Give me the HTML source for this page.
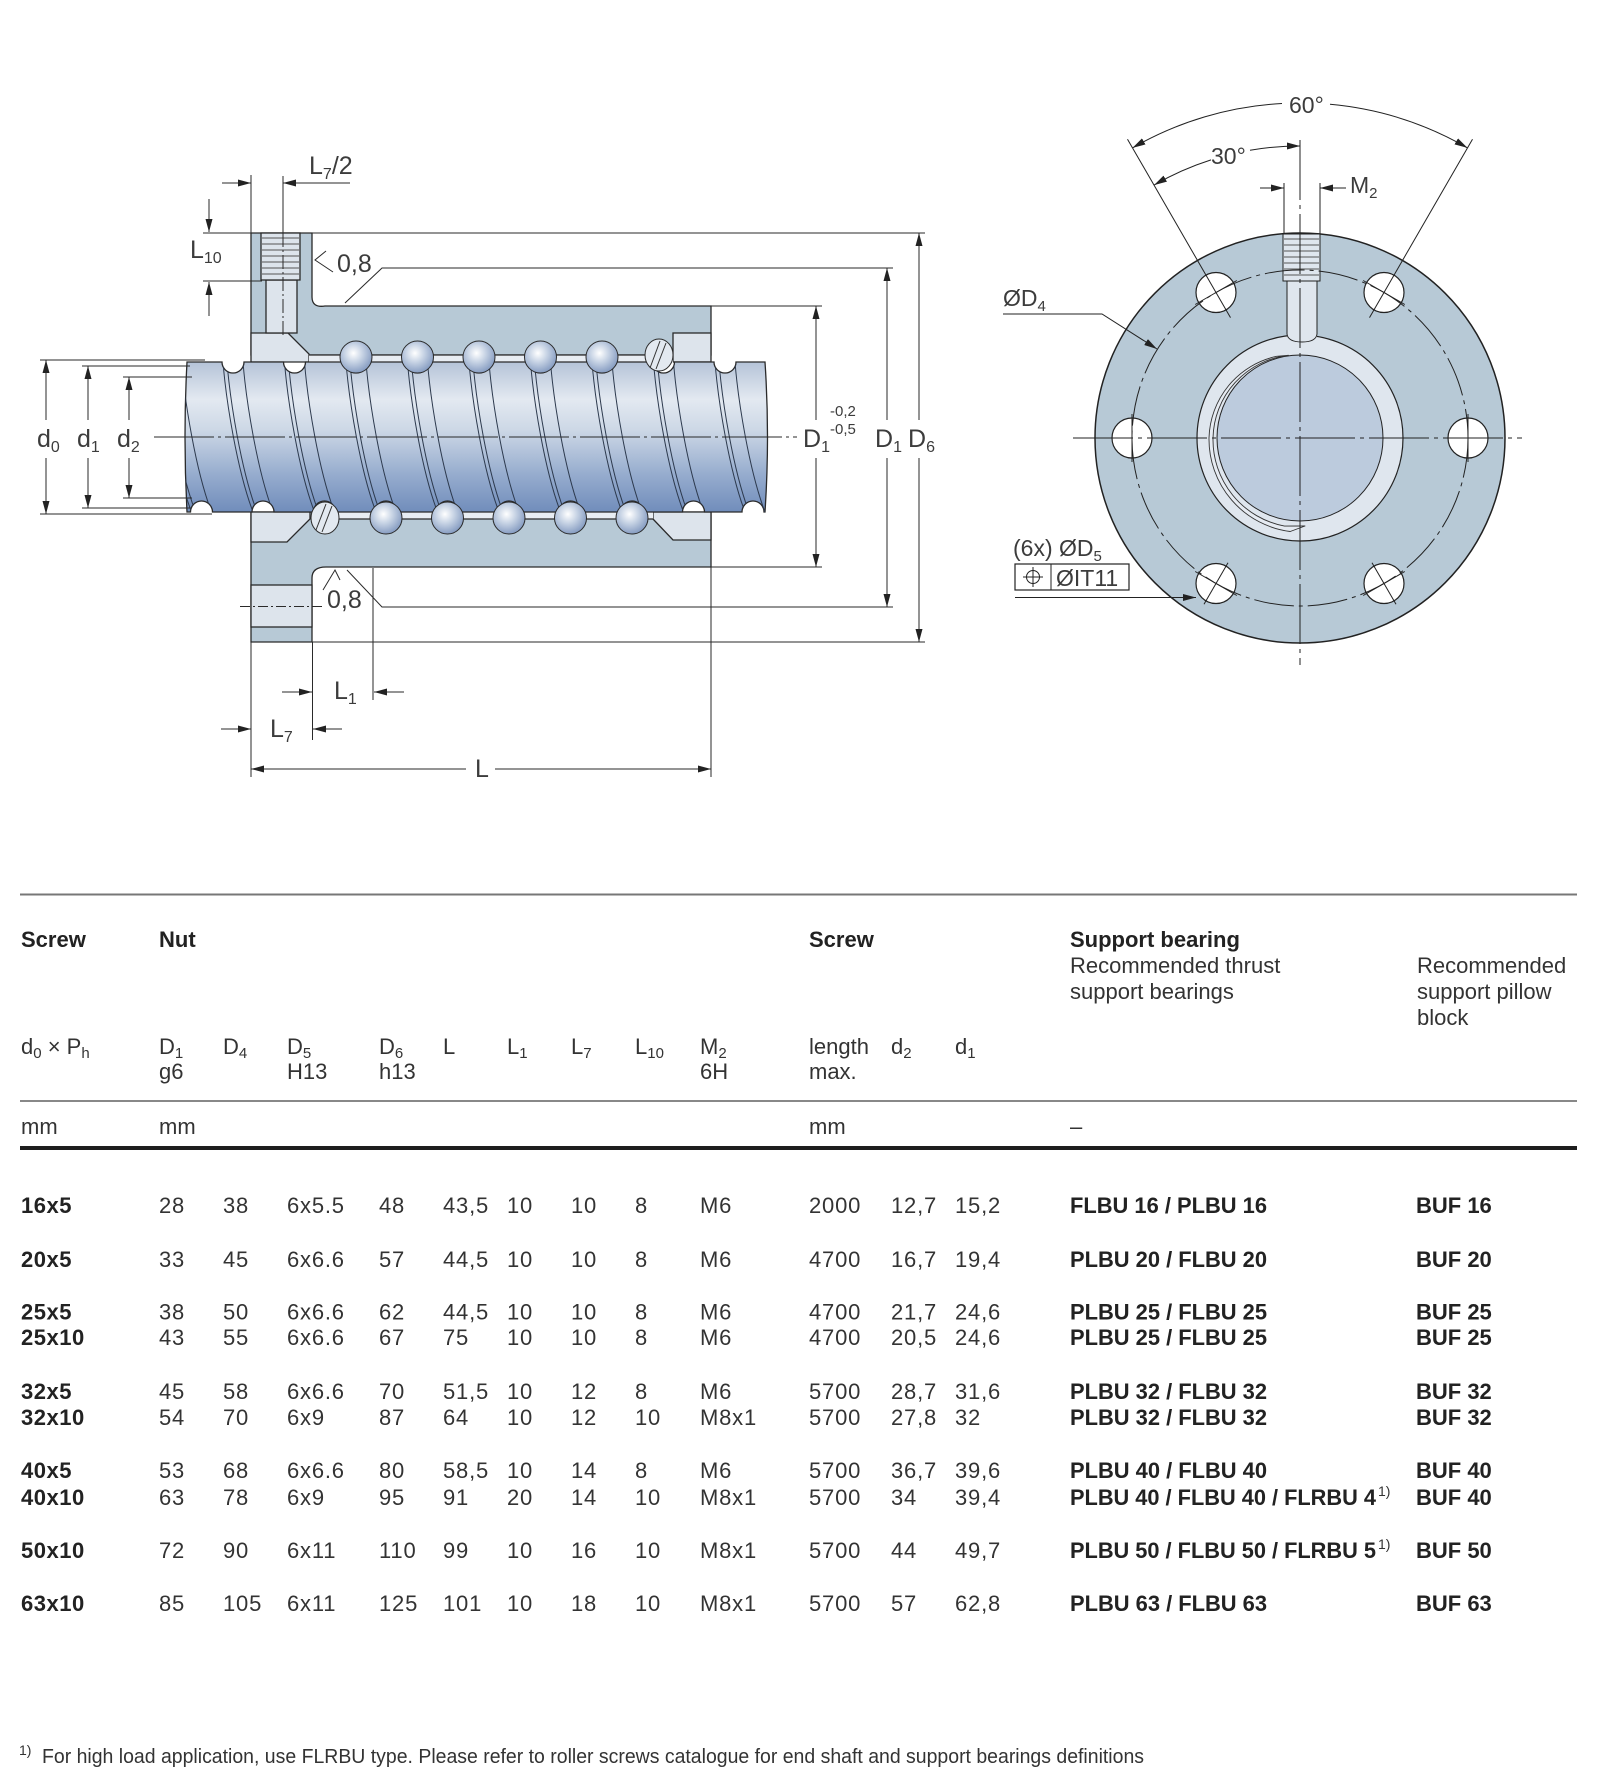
<!DOCTYPE html>
<html><head><meta charset="utf-8"><style>
html,body{margin:0;padding:0;background:#fff;}
svg{display:block;}
text{font-family:"Liberation Sans",Arial,sans-serif;}
</style></head><body>
<svg width="1602" height="1786" viewBox="0 0 1602 1786" xmlns="http://www.w3.org/2000/svg">
<defs>
<marker id="ar" viewBox="0 0 13 7" refX="13" refY="3.5" markerWidth="13" markerHeight="7" orient="auto" markerUnits="userSpaceOnUse"><path d="M0,0L13,3.5L0,7Z" fill="#222"/></marker>
<marker id="as" viewBox="0 0 13 7" refX="13" refY="3.5" markerWidth="13" markerHeight="7" orient="auto-start-reverse" markerUnits="userSpaceOnUse"><path d="M0,0L13,3.5L0,7Z" fill="#222"/></marker>
<linearGradient id="sg" x1="0" y1="362" x2="0" y2="512" gradientUnits="userSpaceOnUse">
<stop offset="0" stop-color="#b5c3d8"/><stop offset="0.25" stop-color="#e3e9f1"/><stop offset="0.45" stop-color="#cdd8e6"/><stop offset="0.75" stop-color="#96acce"/><stop offset="1" stop-color="#718dbb"/>
</linearGradient>
<radialGradient id="bg" cx="0.42" cy="0.38" r="0.62">
<stop offset="0" stop-color="#ffffff"/><stop offset="0.45" stop-color="#c8d4e5"/><stop offset="1" stop-color="#879dc2"/>
</radialGradient>
<path id="scr" d="M187,362 L222,362 A11,11 0 0 0 244,362 L283.5,362 A11,11 0 0 0 305.5,362 L345,362 A11,11 0 0 0 367,362 L406.5,362 A11,11 0 0 0 428.5,362 L468,362 A11,11 0 0 0 490,362 L529.5,362 A11,11 0 0 0 551.5,362 L591,362 A11,11 0 0 0 613,362 L652.5,362 A11,11 0 0 0 674.5,362 L714,362 A11,11 0 0 0 736,362 L765,362 Q770,437 765,512 L764,512 A11,11 0 0 0 742,512 L704.5,512 A11,11 0 0 0 682.5,512 L643,512 A11,11 0 0 0 621,512 L581.5,512 A11,11 0 0 0 559.5,512 L520,512 A11,11 0 0 0 498,512 L458.5,512 A11,11 0 0 0 436.5,512 L397,512 A11,11 0 0 0 375,512 L335.5,512 A11,11 0 0 0 313.5,512 L274,512 A11,11 0 0 0 252,512 L212.5,512 A11,11 0 0 0 190.5,512 L187,512 Q183,437 187,362 Z"/>
<clipPath id="sc"><use href="#scr"/></clipPath>
<g id="gr" fill="none" stroke="#2d3a4e" stroke-width="1">
<path d="M-10,362 C-7,400 4,470 20,512"/>
<path d="M-6,362 C-3,400 8,470 24,512"/>
<path d="M10,362 C13,400 24,470 40,512"/>
</g>
</defs>

<!-- ================= LEFT DRAWING ================= -->
<g stroke="#2a2a2a" stroke-width="1.3">
<path d="M251,233 H312 V297 Q312,308 325,306 H711 V355 H251 Z" fill="#b7c9d6"/>
<path d="M251,512 H711 V567 H326 Q312,567 312,578 V642 H251 Z" fill="#b7c9d6"/>
<path d="M251,333 H288 L309,354 V362 H251 Z" fill="#dde4ec"/>
<rect x="266" y="280" width="31" height="53" fill="#dde4ec"/>
<rect x="261" y="233" width="39" height="47" fill="#dde4ec"/>
<rect x="673" y="333" width="38" height="29" fill="#dde4ec"/>
<path d="M251,512 H310 V519 L287,542 H251 Z" fill="#dde4ec"/>
<path d="M653,519 L673,540 H711 V512 H653 Z" fill="#dde4ec"/>
<rect x="251" y="585" width="61" height="42" fill="#dde4ec"/>
</g>
<rect x="309" y="355" width="364" height="8" fill="#e8edf3"/>
<rect x="312" y="511" width="341" height="8" fill="#e8edf3"/>
<line x1="309" y1="355" x2="673" y2="355" stroke="#2a2a2a" stroke-width="1.2"/>
<line x1="312" y1="519" x2="653" y2="519" stroke="#2a2a2a" stroke-width="1.2"/>
<g stroke="#555" stroke-width="1">
<line x1="262" y1="238" x2="299" y2="238"/><line x1="262" y1="244" x2="299" y2="244"/><line x1="262" y1="250" x2="299" y2="250"/><line x1="262" y1="256" x2="299" y2="256"/><line x1="262" y1="262" x2="299" y2="262"/><line x1="262" y1="268" x2="299" y2="268"/><line x1="262" y1="274" x2="299" y2="274"/>
</g>

<!-- screw -->
<use href="#scr" fill="url(#sg)" stroke="#2a2a2a" stroke-width="1.3"/>
<g clip-path="url(#sc)">
<use href="#gr" x="171.5"/><use href="#gr" x="233"/><use href="#gr" x="294.5"/><use href="#gr" x="356"/><use href="#gr" x="417.5"/><use href="#gr" x="479"/><use href="#gr" x="540.5"/><use href="#gr" x="602"/><use href="#gr" x="663.5"/><use href="#gr" x="725"/>
</g>

<!-- deflectors -->
<g stroke="#2a2a2a" stroke-width="1" fill="#e3e9f0">
<ellipse cx="659" cy="355" rx="14" ry="16"/>
<ellipse cx="325" cy="518" rx="14" ry="16"/>
</g>
<g stroke="#333" stroke-width="1">
<line x1="650" y1="368" x2="660" y2="341"/><line x1="656" y1="369" x2="666" y2="343"/>
<line x1="316" y1="530" x2="326" y2="504"/><line x1="322" y1="532" x2="332" y2="506"/>
</g>
<!-- balls -->
<g fill="url(#bg)" stroke="#2a2a2a" stroke-width="1">
<circle cx="356" cy="357" r="16"/><circle cx="417.5" cy="357" r="16"/><circle cx="479" cy="357" r="16"/><circle cx="540.5" cy="357" r="16"/><circle cx="602" cy="357" r="16"/>
<circle cx="386" cy="518" r="16"/><circle cx="447.5" cy="518" r="16"/><circle cx="509" cy="518" r="16"/><circle cx="570.5" cy="518" r="16"/><circle cx="632" cy="518" r="16"/>
</g>

<!-- dimension / extension lines -->
<g stroke="#2a2a2a" stroke-width="1" fill="none">
<line x1="312" y1="233" x2="925" y2="233"/>
<line x1="312" y1="642" x2="925" y2="642"/>
<line x1="711" y1="306" x2="822" y2="306"/>
<line x1="711" y1="567" x2="822" y2="567"/>
<polyline points="345,303 382,268 893,268"/>
<polyline points="347,570 382,607 893,607"/>
<polyline points="326,251 315,260 333,272"/>
<polyline points="323,590 335,570 340,580"/>
<line x1="251" y1="175" x2="251" y2="233"/>
<line x1="251" y1="642" x2="251" y2="777"/>
<line x1="283" y1="176" x2="283" y2="233"/>
<line x1="283" y1="233" x2="283" y2="336" stroke-dasharray="14 3 2 3"/>
<line x1="312.5" y1="642" x2="312.5" y2="740"/>
<line x1="373" y1="568" x2="373" y2="700"/>
<line x1="711" y1="567" x2="711" y2="777"/>
<line x1="203" y1="233" x2="251" y2="233"/>
<line x1="203" y1="281" x2="262" y2="281"/>
<line x1="40" y1="360" x2="205" y2="360"/>
<line x1="40" y1="514" x2="212" y2="514"/>
<line x1="82" y1="366" x2="190" y2="366"/>
<line x1="82" y1="508" x2="190" y2="508"/>
<line x1="123" y1="377" x2="192" y2="377"/>
<line x1="123" y1="498" x2="192" y2="498"/>
<line x1="240" y1="606.5" x2="322" y2="606.5" stroke-dasharray="10 3 2 3"/>
<line x1="154" y1="437" x2="797" y2="437" stroke-dasharray="60 4 3 4"/>
</g>
<g stroke="#2a2a2a" stroke-width="1" marker-end="url(#ar)">
<line x1="222" y1="183" x2="251" y2="183"/>
<line x1="350" y1="183" x2="283" y2="183"/>
<line x1="209" y1="199" x2="209" y2="232"/>
<line x1="209" y1="316" x2="209" y2="282"/>
<line x1="816" y1="420" x2="816" y2="306"/>
<line x1="816" y1="458" x2="816" y2="567"/>
<line x1="887" y1="420" x2="887" y2="268"/>
<line x1="887" y1="458" x2="887" y2="607"/>
<line x1="919" y1="420" x2="919" y2="233"/>
<line x1="919" y1="458" x2="919" y2="642"/>
<line x1="46" y1="420" x2="46" y2="360"/>
<line x1="46" y1="458" x2="46" y2="514"/>
<line x1="88" y1="420" x2="88" y2="366"/>
<line x1="88" y1="458" x2="88" y2="508"/>
<line x1="129" y1="420" x2="129" y2="377"/>
<line x1="129" y1="458" x2="129" y2="498"/>
<line x1="282" y1="692" x2="312" y2="692"/>
<line x1="404" y1="692" x2="374" y2="692"/>
<line x1="221" y1="729" x2="251" y2="729"/>
<line x1="342" y1="729" x2="313" y2="729"/>
<line x1="466" y1="769" x2="251" y2="769"/>
<line x1="495" y1="769" x2="711" y2="769"/>
</g>

<!-- left drawing labels -->
<g fill="#3c3c3c" font-size="25">
<text x="309" y="174">L<tspan font-size="16" dy="5">7</tspan><tspan dy="-5">/2</tspan></text>
<text x="190" y="258">L<tspan font-size="16" dy="5">10</tspan></text>
<text x="337" y="272">0,8</text>
<text x="327" y="608">0,8</text>
<text x="37" y="447">d<tspan font-size="16" dy="5">0</tspan></text>
<text x="77" y="447">d<tspan font-size="16" dy="5">1</tspan></text>
<text x="117" y="447">d<tspan font-size="16" dy="5">2</tspan></text>
<text x="803" y="447">D<tspan font-size="16" dy="5">1</tspan></text>
<text x="830" y="416" font-size="15">-0,2</text>
<text x="830" y="434" font-size="15">-0,5</text>
<text x="875" y="447">D<tspan font-size="16" dy="5">1</tspan></text>
<text x="908" y="447">D<tspan font-size="16" dy="5">6</tspan></text>
<text x="334" y="699">L<tspan font-size="16" dy="5">1</tspan></text>
<text x="270" y="737">L<tspan font-size="16" dy="5">7</tspan></text>
<text x="475" y="777">L</text>
</g>

<!-- ================= RIGHT DRAWING ================= -->
<circle cx="1300" cy="438" r="205" fill="#b7c9d6" stroke="#222" stroke-width="1.5"/>
<circle cx="1300" cy="438" r="103" fill="#dfe6ee" stroke="#222" stroke-width="1.2"/>
<circle cx="1300" cy="438" r="83" fill="#bccbdd" stroke="#222" stroke-width="1"/>
<path d="M1276.6,356.3 A86,86 0 0 0 1209,438 A93,93 0 0 0 1290.2,531.5 L1305,526 L1284.5,526.1 A88,88 0 0 1 1213,438 A85,85 0 0 1 1288.4,355.3 Z" fill="#e6ebf2" stroke="#333" stroke-width="0.9" stroke-linejoin="round"/>
<!-- tapped hole -->
<rect x="1287" y="280" width="30" height="57" fill="#dfe6ee"/>
<rect x="1283" y="234" width="37" height="47" fill="#dfe6ee" stroke="#222" stroke-width="1"/>
<g stroke="#222" stroke-width="1" fill="none">
<line x1="1287" y1="281" x2="1287" y2="334"/>
<line x1="1317" y1="281" x2="1317" y2="334"/>
<path d="M1287,334 Q1288,342 1302,342 Q1316,342 1317,334"/>
</g>
<g stroke="#555" stroke-width="1">
<line x1="1284" y1="239" x2="1319" y2="239"/><line x1="1284" y1="245" x2="1319" y2="245"/><line x1="1284" y1="251" x2="1319" y2="251"/><line x1="1284" y1="257" x2="1319" y2="257"/><line x1="1284" y1="263" x2="1319" y2="263"/><line x1="1284" y1="269" x2="1319" y2="269"/><line x1="1284" y1="275" x2="1319" y2="275"/>
</g>
<!-- bolt holes -->
<g fill="#fff" stroke="#222" stroke-width="1.2">
<circle cx="1384" cy="292.5" r="20"/><circle cx="1216" cy="292.5" r="20"/>
<circle cx="1468" cy="438" r="20"/><circle cx="1132" cy="438" r="20"/>
<circle cx="1384" cy="583.5" r="20"/><circle cx="1216" cy="583.5" r="20"/>
</g>
<circle cx="1300" cy="438" r="168" fill="none" stroke="#222" stroke-width="1" stroke-dasharray="40 5 4 5"/>
<g stroke="#222" stroke-width="1">
<line x1="1363.2" y1="280.5" x2="1404.8" y2="304.5"/>
<line x1="1195.2" y1="304.5" x2="1236.8" y2="280.5"/>
<line x1="1468" y1="414" x2="1468" y2="462"/>
<line x1="1132" y1="414" x2="1132" y2="462"/>
<line x1="1372" y1="562.7" x2="1396" y2="604.3"/><line x1="1404.8" y1="571.5" x2="1363.2" y2="595.5"/>
<line x1="1228" y1="562.7" x2="1204" y2="604.3"/><line x1="1195.2" y1="571.5" x2="1236.8" y2="595.5"/>
<line x1="1230.5" y1="317.6" x2="1127.5" y2="139.2"/>
<line x1="1369.5" y1="317.6" x2="1472.5" y2="139.2"/>
<line x1="1300" y1="140" x2="1300" y2="665" stroke-dasharray="60 5 4 5"/>
<line x1="1073" y1="438" x2="1522" y2="438" stroke-dasharray="60 5 4 5"/>
<line x1="1284" y1="183" x2="1284" y2="234"/>
<line x1="1320" y1="183" x2="1320" y2="234"/>
</g>
<g stroke="#222" stroke-width="1" fill="none">
<path d="M1282,103.5 A335,335 0 0 0 1132.5,147.9" marker-end="url(#ar)"/>
<path d="M1330,104.3 A335,335 0 0 1 1467.5,147.9" marker-end="url(#ar)"/>
<path d="M1211,159.9 A292,292 0 0 0 1154,185.1" marker-end="url(#ar)"/>
<path d="M1250,150.3 A292,292 0 0 1 1300,146" marker-end="url(#ar)"/>
<line x1="1260" y1="188" x2="1284" y2="188" marker-end="url(#ar)"/>
<line x1="1346" y1="188" x2="1320" y2="188" marker-end="url(#ar)"/>
<polyline points="1003,314 1102,314 1157,349" marker-end="url(#ar)"/>
<line x1="1015" y1="597.5" x2="1196" y2="597.5" marker-end="url(#ar)"/>
<rect x="1015" y="564" width="114" height="26" stroke-width="1.2"/>
<line x1="1051" y1="564" x2="1051" y2="590"/>
<circle cx="1033" cy="577" r="6.5"/>
<line x1="1023" y1="577" x2="1043" y2="577"/>
<line x1="1033" y1="567" x2="1033" y2="587"/>
</g>
<g fill="#3c3c3c" font-size="23">
<text x="1289" y="113">60°</text>
<text x="1211" y="164">30°</text>
<text x="1350" y="193">M<tspan font-size="15" dy="5">2</tspan></text>
<text x="1003" y="306">ØD<tspan font-size="15" dy="5">4</tspan></text>
<text x="1013" y="556">(6x) ØD<tspan font-size="15" dy="5">5</tspan></text>
<text x="1056" y="586">ØIT11</text>
</g>

<!-- ================= TABLE ================= -->
<line x1="20" y1="894.5" x2="1577" y2="894.5" stroke="#777" stroke-width="2"/>
<line x1="20" y1="1101" x2="1577" y2="1101" stroke="#888" stroke-width="2"/>
<line x1="20" y1="1148" x2="1577" y2="1148" stroke="#1e1e1e" stroke-width="4"/>

<g fill="#222" font-size="22" font-weight="bold">
<text x="21" y="947">Screw</text>
<text x="159" y="947">Nut</text>
<text x="809" y="947">Screw</text>
<text x="1070" y="947">Support bearing</text>
</g>
<g fill="#333" font-size="22">
<text x="1070" y="973">Recommended thrust</text>
<text x="1070" y="999">support bearings</text>
<text x="1417" y="973">Recommended</text>
<text x="1417" y="999">support pillow</text>
<text x="1417" y="1025">block</text>
<text x="21" y="1054">d<tspan font-size="15" dy="4">0</tspan><tspan dy="-4"> × P</tspan><tspan font-size="15" dy="4">h</tspan></text>
<text x="159" y="1054">D<tspan font-size="15" dy="4">1</tspan></text>
<text x="159" y="1079">g6</text>
<text x="223" y="1054">D<tspan font-size="15" dy="4">4</tspan></text>
<text x="287" y="1054">D<tspan font-size="15" dy="4">5</tspan></text>
<text x="287" y="1079">H13</text>
<text x="379" y="1054">D<tspan font-size="15" dy="4">6</tspan></text>
<text x="379" y="1079">h13</text>
<text x="443" y="1054">L</text>
<text x="507" y="1054">L<tspan font-size="15" dy="4">1</tspan></text>
<text x="571" y="1054">L<tspan font-size="15" dy="4">7</tspan></text>
<text x="635" y="1054">L<tspan font-size="15" dy="4">10</tspan></text>
<text x="700" y="1054">M<tspan font-size="15" dy="4">2</tspan></text>
<text x="700" y="1079">6H</text>
<text x="809" y="1054">length</text>
<text x="809" y="1079">max.</text>
<text x="891" y="1054">d<tspan font-size="15" dy="4">2</tspan></text>
<text x="955" y="1054">d<tspan font-size="15" dy="4">1</tspan></text>
<text x="21" y="1134">mm</text>
<text x="159" y="1134">mm</text>
<text x="809" y="1134">mm</text>
<text x="1070" y="1134">–</text>
</g>

<g fill="#333" font-size="22" letter-spacing="0.8">
<text y="1213"><tspan x="159">28</tspan><tspan x="223">38</tspan><tspan x="287">6x5.5</tspan><tspan x="379">48</tspan><tspan x="443">43,5</tspan><tspan x="507">10</tspan><tspan x="571">10</tspan><tspan x="635">8</tspan><tspan x="700">M6</tspan><tspan x="809">2000</tspan><tspan x="891">12,7</tspan><tspan x="955">15,2</tspan></text>
<text y="1267"><tspan x="159">33</tspan><tspan x="223">45</tspan><tspan x="287">6x6.6</tspan><tspan x="379">57</tspan><tspan x="443">44,5</tspan><tspan x="507">10</tspan><tspan x="571">10</tspan><tspan x="635">8</tspan><tspan x="700">M6</tspan><tspan x="809">4700</tspan><tspan x="891">16,7</tspan><tspan x="955">19,4</tspan></text>
<text y="1319.5"><tspan x="159">38</tspan><tspan x="223">50</tspan><tspan x="287">6x6.6</tspan><tspan x="379">62</tspan><tspan x="443">44,5</tspan><tspan x="507">10</tspan><tspan x="571">10</tspan><tspan x="635">8</tspan><tspan x="700">M6</tspan><tspan x="809">4700</tspan><tspan x="891">21,7</tspan><tspan x="955">24,6</tspan></text>
<text y="1345"><tspan x="159">43</tspan><tspan x="223">55</tspan><tspan x="287">6x6.6</tspan><tspan x="379">67</tspan><tspan x="443">75</tspan><tspan x="507">10</tspan><tspan x="571">10</tspan><tspan x="635">8</tspan><tspan x="700">M6</tspan><tspan x="809">4700</tspan><tspan x="891">20,5</tspan><tspan x="955">24,6</tspan></text>
<text y="1399"><tspan x="159">45</tspan><tspan x="223">58</tspan><tspan x="287">6x6.6</tspan><tspan x="379">70</tspan><tspan x="443">51,5</tspan><tspan x="507">10</tspan><tspan x="571">12</tspan><tspan x="635">8</tspan><tspan x="700">M6</tspan><tspan x="809">5700</tspan><tspan x="891">28,7</tspan><tspan x="955">31,6</tspan></text>
<text y="1425"><tspan x="159">54</tspan><tspan x="223">70</tspan><tspan x="287">6x9</tspan><tspan x="379">87</tspan><tspan x="443">64</tspan><tspan x="507">10</tspan><tspan x="571">12</tspan><tspan x="635">10</tspan><tspan x="700">M8x1</tspan><tspan x="809">5700</tspan><tspan x="891">27,8</tspan><tspan x="955">32</tspan></text>
<text y="1478"><tspan x="159">53</tspan><tspan x="223">68</tspan><tspan x="287">6x6.6</tspan><tspan x="379">80</tspan><tspan x="443">58,5</tspan><tspan x="507">10</tspan><tspan x="571">14</tspan><tspan x="635">8</tspan><tspan x="700">M6</tspan><tspan x="809">5700</tspan><tspan x="891">36,7</tspan><tspan x="955">39,6</tspan></text>
<text y="1505"><tspan x="159">63</tspan><tspan x="223">78</tspan><tspan x="287">6x9</tspan><tspan x="379">95</tspan><tspan x="443">91</tspan><tspan x="507">20</tspan><tspan x="571">14</tspan><tspan x="635">10</tspan><tspan x="700">M8x1</tspan><tspan x="809">5700</tspan><tspan x="891">34</tspan><tspan x="955">39,4</tspan></text>
<text y="1558"><tspan x="159">72</tspan><tspan x="223">90</tspan><tspan x="287">6x11</tspan><tspan x="379">110</tspan><tspan x="443">99</tspan><tspan x="507">10</tspan><tspan x="571">16</tspan><tspan x="635">10</tspan><tspan x="700">M8x1</tspan><tspan x="809">5700</tspan><tspan x="891">44</tspan><tspan x="955">49,7</tspan></text>
<text y="1611"><tspan x="159">85</tspan><tspan x="223">105</tspan><tspan x="287">6x11</tspan><tspan x="379">125</tspan><tspan x="443">101</tspan><tspan x="507">10</tspan><tspan x="571">18</tspan><tspan x="635">10</tspan><tspan x="700">M8x1</tspan><tspan x="809">5700</tspan><tspan x="891">57</tspan><tspan x="955">62,8</tspan></text>
</g>
<g fill="#222" font-size="22" font-weight="bold">
<text x="21" y="1213" letter-spacing="0.5">16x5</text>
<text x="21" y="1267" letter-spacing="0.5">20x5</text>
<text x="21" y="1319.5" letter-spacing="0.5">25x5</text>
<text x="21" y="1345" letter-spacing="0.5">25x10</text>
<text x="21" y="1399" letter-spacing="0.5">32x5</text>
<text x="21" y="1425" letter-spacing="0.5">32x10</text>
<text x="21" y="1478" letter-spacing="0.5">40x5</text>
<text x="21" y="1505" letter-spacing="0.5">40x10</text>
<text x="21" y="1558" letter-spacing="0.5">50x10</text>
<text x="21" y="1611" letter-spacing="0.5">63x10</text>
<text x="1070" y="1213" textLength="197" lengthAdjust="spacingAndGlyphs">FLBU 16 / PLBU 16</text>
<text x="1070" y="1267" textLength="197" lengthAdjust="spacingAndGlyphs">PLBU 20 / FLBU 20</text>
<text x="1070" y="1319.5" textLength="197" lengthAdjust="spacingAndGlyphs">PLBU 25 / FLBU 25</text>
<text x="1070" y="1345" textLength="197" lengthAdjust="spacingAndGlyphs">PLBU 25 / FLBU 25</text>
<text x="1070" y="1399" textLength="197" lengthAdjust="spacingAndGlyphs">PLBU 32 / FLBU 32</text>
<text x="1070" y="1425" textLength="197" lengthAdjust="spacingAndGlyphs">PLBU 32 / FLBU 32</text>
<text x="1070" y="1478" textLength="197" lengthAdjust="spacingAndGlyphs">PLBU 40 / FLBU 40</text>
<text x="1070" y="1505" textLength="306" lengthAdjust="spacingAndGlyphs">PLBU 40 / FLBU 40 / FLRBU 4</text>
<text x="1070" y="1558" textLength="306" lengthAdjust="spacingAndGlyphs">PLBU 50 / FLBU 50 / FLRBU 5</text>
<text x="1070" y="1611" textLength="197" lengthAdjust="spacingAndGlyphs">PLBU 63 / FLBU 63</text>
<text x="1416" y="1213">BUF 16</text>
<text x="1416" y="1267">BUF 20</text>
<text x="1416" y="1319.5">BUF 25</text>
<text x="1416" y="1345">BUF 25</text>
<text x="1416" y="1399">BUF 32</text>
<text x="1416" y="1425">BUF 32</text>
<text x="1416" y="1478">BUF 40</text>
<text x="1416" y="1505">BUF 40</text>
<text x="1416" y="1558">BUF 50</text>
<text x="1416" y="1611">BUF 63</text>
</g>
<g fill="#333" font-size="14">
<text x="1378" y="1496">1)</text>
<text x="1378" y="1549">1)</text>
</g>

<text x="19" y="1755" font-size="14" fill="#333">1)</text>
<text x="42" y="1763" font-size="20" fill="#333" textLength="1102" lengthAdjust="spacingAndGlyphs">For high load application, use FLRBU type. Please refer to roller screws catalogue for end shaft and support bearings definitions</text>
</svg>
</body></html>
